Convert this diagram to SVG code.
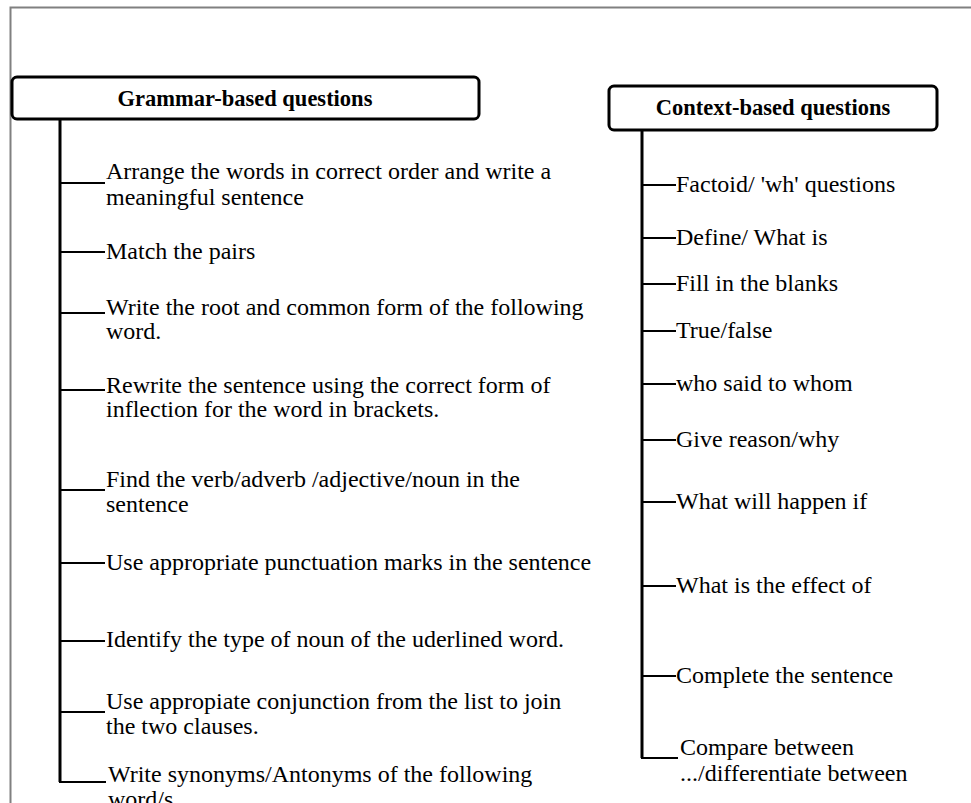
<svg xmlns="http://www.w3.org/2000/svg" width="971" height="803" viewBox="0 0 971 803">
<style>
.frame{fill:none;stroke:#808080;stroke-width:2}
.box{fill:#fff;stroke:#000;stroke-width:3}
.title{font-family:"Liberation Serif","Times New Roman",serif;font-weight:bold;font-size:22.5px;fill:#000}
.item{font-family:"Liberation Serif","Times New Roman",serif;font-size:24px;fill:#000}
.trunk{fill:none;stroke:#000;stroke-width:3}
.tick{fill:none;stroke:#000;stroke-width:2}
</style>
<rect width="971" height="803" fill="#fff"/>
<path class="frame" d="M10.5,803 V7.5 H971"/>
<g id="connectors">
<path class="trunk" d="M60,120 V782"/>
<path class="tick" d="M59,782 H106 M60,183 H105 M60,252 H105 M60,313 H105 M60,390 H105 M60,490 H105 M60,563 H105 M60,641 H105 M60,712 H105"/>
<path class="trunk" d="M642,130 V758"/>
<path class="tick" d="M641,758 H678 M642,185 H676 M642,238 H676 M642,284 H676 M642,331 H676 M642,384 H676 M642,440 H676 M642,502 H676 M642,586 H676 M642,676 H676"/>
</g>
<g id="grammar">
<rect class="box" x="12" y="77" width="467" height="42" rx="5"/>
<text class="title" x="245" y="106" text-anchor="middle">Grammar-based questions</text>
</g>
<g id="context">
<rect class="box" x="609" y="86" width="328" height="44" rx="5"/>
<text class="title" x="773" y="115" text-anchor="middle" font-size="23px">Context-based questions</text>
</g>
<g id="g1"><text class="item" x="106" y="179">Arrange the words in correct order and write a</text><text class="item" x="106" y="205">meaningful sentence</text></g>
<g id="g2"><text class="item" x="106" y="259">Match the pairs</text></g>
<g id="g3"><text class="item" x="106" y="315">Write the root and common form of the following</text><text class="item" x="106" y="339">word.</text></g>
<g id="g4"><text class="item" x="106" y="393">Rewrite the sentence using the correct form of</text><text class="item" x="106" y="417">inflection for the word in brackets.</text></g>
<g id="g5"><text class="item" x="106" y="487">Find the  verb/adverb /adjective/noun in the</text><text class="item" x="106" y="512">sentence</text></g>
<g id="g6"><text class="item" x="106" y="570">Use appropriate punctuation marks in the sentence</text></g>
<g id="g7"><text class="item" x="106" y="647">Identify the type of noun of the uderlined word.</text></g>
<g id="g8"><text class="item" x="106" y="709">Use appropiate conjunction from the list to join</text><text class="item" x="106" y="734">the two clauses.</text></g>
<g id="g9"><text class="item" x="108" y="782">Write synonyms/Antonyms of the following</text><text class="item" x="108" y="807">word/s</text></g>
<g id="c1"><text class="item" x="676" y="192">Factoid/ 'wh' questions</text></g>
<g id="c2"><text class="item" x="676" y="245">Define/ What is</text></g>
<g id="c3"><text class="item" x="676" y="291">Fill in the blanks</text></g>
<g id="c4"><text class="item" x="676" y="338">True/false</text></g>
<g id="c5"><text class="item" x="676" y="391">who said to whom</text></g>
<g id="c6"><text class="item" x="676" y="447">Give reason/why</text></g>
<g id="c7"><text class="item" x="676" y="509">What will happen if</text></g>
<g id="c8"><text class="item" x="676" y="593">What is the effect of</text></g>
<g id="c9"><text class="item" x="676" y="683">Complete the sentence</text></g>
<g id="c10"><text class="item" x="680" y="755">Compare between</text><text class="item" x="680" y="781">.../differentiate between</text></g>
</svg>
